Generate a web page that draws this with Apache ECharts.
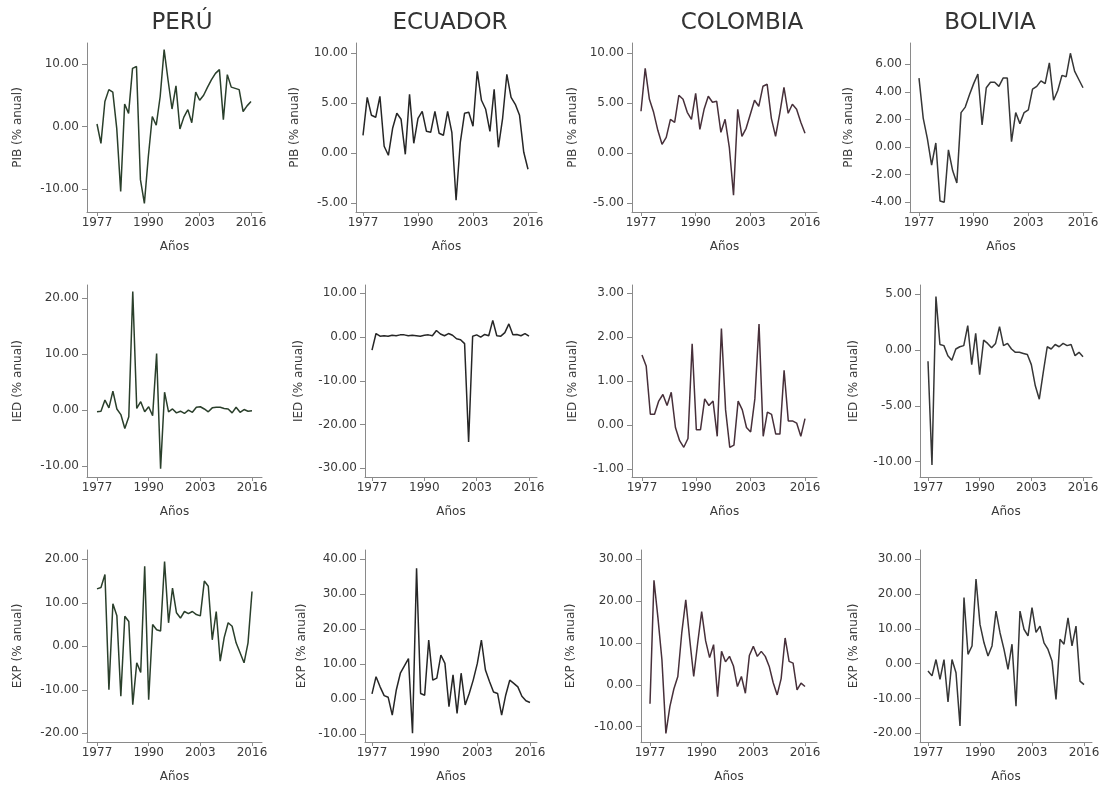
<!DOCTYPE html>
<html><head><meta charset="utf-8">
<script src="https://cdn.jsdelivr.net/npm/echarts@6/dist/echarts.min.js"></script>
<style>html,body{margin:0;padding:0;background:#fff}#c{width:1104px;height:794px}</style>
</head><body><div id="c"></div>
<script>
// ---------- data ----------
const years = [1977,1978,1979,1980,1981,1982,1983,1984,1985,1986,1987,1988,1989,1990,1991,1992,1993,1994,1995,1996,
               1997,1998,1999,2000,2001,2002,2003,2004,2005,2006,2007,2008,2009,2010,2011,2012,2013,2014,2015,2016];
const countries = ['PERÚ','ECUADOR','COLOMBIA','BOLIVIA'];
const rowNames = ['PIB (% anual)','IED (% anual)','EXP (% anual)'];
const xName = 'Años';
const xTicks = [1977,1990,2003,2016];

const pibPeru     = [0.4,-2.7,4.0,5.9,5.5,-0.3,-10.4,3.6,2.1,9.3,9.6,-8.5,-12.3,-4.8,1.6,0.2,4.8,12.3,7.4,2.8,6.5,-0.4,1.5,2.7,0.6,5.5,4.2,5.0,6.3,7.5,8.5,9.1,1.1,8.3,6.3,6.1,5.9,2.4,3.3,4.0];
const pibEcuador  = [1.8,5.6,3.8,3.6,5.7,0.7,-0.2,2.5,4.0,3.4,-0.1,5.9,1.0,3.5,4.2,2.2,2.1,4.2,2.0,1.8,4.2,2.1,-4.7,1.1,4.0,4.1,2.7,8.2,5.3,4.4,2.2,6.4,0.6,3.5,7.9,5.6,4.9,3.8,0.1,-1.6];
const pibColombia = [4.2,8.5,5.4,4.1,2.3,0.9,1.6,3.4,3.1,5.8,5.4,4.1,3.4,6.0,2.4,4.4,5.7,5.1,5.2,2.1,3.4,0.6,-4.2,4.4,1.7,2.5,3.9,5.3,4.7,6.7,6.9,3.5,1.7,4.0,6.6,4.0,4.9,4.4,3.1,2.0];
const pibBolivia  = [5.0,2.1,0.6,-1.3,0.3,-3.9,-4.0,-0.2,-1.7,-2.6,2.5,2.9,3.8,4.6,5.3,1.6,4.3,4.7,4.7,4.4,5.0,5.0,0.4,2.5,1.7,2.5,2.7,4.2,4.4,4.8,4.6,6.1,3.4,4.1,5.2,5.1,6.8,5.5,4.9,4.3];

const iedPeru     = [-0.3,-0.2,1.8,0.4,3.4,0.2,-0.8,-3.3,-1.2,21.2,0.3,1.5,-0.3,0.6,-1.0,10.1,-10.5,3.2,-0.3,0.2,-0.5,-0.2,-0.6,0.0,-0.4,0.5,0.6,0.2,-0.3,0.4,0.5,0.5,0.3,0.2,-0.5,0.5,-0.4,0.1,-0.2,-0.1];
const iedEcuador  = [-3.0,0.8,0.2,0.3,0.2,0.4,0.3,0.5,0.5,0.3,0.4,0.3,0.2,0.4,0.5,0.3,1.5,0.7,0.3,0.8,0.4,-0.4,-0.6,-1.5,-24.0,0.2,0.5,0.0,0.6,0.3,3.8,0.3,0.2,1.0,3.0,0.5,0.6,0.3,0.8,0.2];
const iedColombia = [1.6,1.35,0.25,0.25,0.55,0.7,0.45,0.75,-0.05,-0.35,-0.5,-0.3,1.85,-0.1,-0.1,0.6,0.45,0.55,-0.25,2.2,0.35,-0.5,-0.45,0.55,0.35,-0.05,-0.15,0.6,2.3,-0.25,0.3,0.25,-0.2,-0.2,1.25,0.1,0.1,0.05,-0.25,0.15];
const iedBolivia  = [-1.0,-10.3,4.8,0.5,0.4,-0.5,-0.9,0.1,0.3,0.4,2.2,-1.3,1.5,-2.2,0.9,0.6,0.2,0.6,2.1,0.4,0.6,0.1,-0.2,-0.2,-0.3,-0.4,-1.3,-3.2,-4.4,-2.0,0.3,0.1,0.5,0.3,0.6,0.4,0.5,-0.5,-0.2,-0.6];

const expPeru     = [13.2,13.5,16.5,-10.0,9.8,7.0,-11.5,6.9,5.7,-13.4,-3.8,-6.0,18.4,-12.3,5.0,3.8,3.5,19.5,5.4,13.4,7.7,6.5,8.0,7.5,8.0,7.3,7.0,15.0,13.8,1.5,8.0,-3.4,2.0,5.4,4.6,0.8,-1.5,-3.8,0.8,12.6];
const expEcuador  = [1.5,6.4,3.5,1.0,0.5,-4.6,2.6,7.4,9.5,11.6,-9.8,37.4,1.6,1.1,16.9,5.4,6.0,12.6,10.2,-2.2,6.9,-4.1,7.4,-1.7,1.6,5.5,10.2,16.9,8.3,5.0,2.0,1.6,-4.6,1.1,5.4,4.5,3.5,0.8,-0.5,-1.0];
const expColombia = [-4.5,25.0,16.0,6.0,-11.6,-5.2,-1.0,2.0,12.5,20.3,10.8,2.0,10.0,17.5,10.5,6.5,9.6,-2.8,8.0,5.5,6.8,4.5,-0.4,2.0,-2.0,7.0,9.2,6.8,8.0,6.8,4.4,0.5,-2.4,1.5,11.2,5.6,5.2,-1.2,0.4,-0.4];
const expBolivia  = [-2.1,-3.5,1.2,-4.5,1.2,-11.0,1.2,-2.6,-17.9,19.0,2.7,5.1,24.3,11.3,6.0,2.2,5.1,15.1,8.9,4.1,-1.6,5.6,-12.2,15.1,9.9,8.0,16.1,9.0,10.8,6.0,4.1,0.8,-10.3,7.0,5.6,13.2,5.1,10.8,-5.0,-6.0];

// y tick labels per panel
const yTicksPib = [[-10,0,10],[-5,0,5,10],[-5,0,5,10],[-4,-2,0,2,4,6]];
const yTicksIed = [[-10,0,10,20],[-30,-20,-10,0,10],[-1,0,1,2,3],[-10,-5,0,5]];
const yTicksExp = [[-20,-10,0,10,20],[-10,0,10,20,30,40],[-10,0,10,20,30],[-20,-10,0,10,20,30]];

// ---------- layout (pixels) ----------
const rowTop = [43, 285, 550];
const rowBottom = [212, 477, 742];
const axisX  = [[87,356,632,910],[87,365,632,920],[87,365,641,920]];
const tick1977X = [[97,363,641,919],[97,372,642,928],[97,372,650,928]];
const tick2016X = [[251,528,805,1083],[252,529,805,1083],[252,530,805,1084]];
const rightX = [[262,537,817,1092],[262,537,817,1092],[262,537,817,1092]];
const yTickPx = [
  [[64,189],[53.3,203.3],[53.3,203.3],[64.3,202.3]],
  [[298.3,466],[293.3,468.3],[293.3,469.3],[294.3,461.7]],
  [[559.3,733.3],[559.3,734],[559.3,726.7],[559.3,733.3]]
];
const yNameGap = [[63,55,53,55],[63,60,53,60],[63,57,64,60]];
const titleCenterX = [182,450,742,990];
const lineColors = ['#2a3f2b','#262626','#47303a','#363636'];

// ---------- build ----------
const seriesVals = [[pibPeru,pibEcuador,pibColombia,pibBolivia],[iedPeru,iedEcuador,iedColombia,iedBolivia],[expPeru,expEcuador,expColombia,expBolivia]];
const yTickSets = [yTicksPib, yTicksIed, yTicksExp];
const FONT = 'DejaVu Sans';
const axisColor = '#8a8a8a';
const textColor = '#3a3a3a';

const grid=[], xAxis=[], yAxis=[], series=[], title=[];
for (let c=0;c<4;c++){
  title.push({text:countries[c], left:titleCenterX[c]-5, top:7, textAlign:'center',
    textStyle:{fontFamily:FONT, fontSize:23, fontWeight:'normal', color:'#333'}});
}
for (let r=0;r<3;r++){
  for (let c=0;c<4;c++){
    const k=r*4+c;
    const L=axisX[r][c], R=rightX[r][c], a=tick1977X[r][c], b=tick2016X[r][c];
    const sx=(b-a)/(xTicks[3]-xTicks[0]);
    const xmin=xTicks[0]-(a-L)/sx, xmax=xTicks[3]+(R-b)/sx;
    const top=rowTop[r], bottom=rowBottom[r];
    const ticks=yTickSets[r][c];
    const tMin=ticks[0], tMax=ticks[ticks.length-1];
    const pMax=yTickPx[r][c][0], pMin=yTickPx[r][c][1];
    const sy=(pMin-pMax)/(tMax-tMin);
    const ymax=tMax+(pMax-top)/sy, ymin=tMin-(bottom-pMin)/sy;
    grid.push({left:L, top:top, width:R-L, height:bottom-top});
    xAxis.push({type:'value', gridIndex:k, min:xmin, max:xmax,
      name:xName, nameLocation:'middle', nameGap:29,
      nameTextStyle:{fontFamily:FONT, fontSize:12, color:textColor},
      axisLine:{onZero:false, lineStyle:{color:axisColor, width:1}},
      axisTick:{customValues:xTicks, length:4, lineStyle:{color:axisColor}},
      axisLabel:{customValues:xTicks, margin:5, fontFamily:FONT, fontSize:12, color:textColor, formatter:v=>String(Math.round(v))},
      splitLine:{show:false}});
    yAxis.push({type:'value', gridIndex:k, min:ymin, max:ymax,
      name:rowNames[r], nameLocation:'middle', nameGap:yNameGap[r][c],
      nameTextStyle:{fontFamily:FONT, fontSize:12, color:textColor},
      axisLine:{show:true, onZero:false, lineStyle:{color:axisColor, width:1}},
      axisTick:{show:true, customValues:ticks, length:5, lineStyle:{color:axisColor}},
      axisLabel:{customValues:ticks, margin:8, fontFamily:FONT, fontSize:12, color:textColor, formatter:v=>Number(v).toFixed(2)},
      splitLine:{show:false}});
    const vals=seriesVals[r][c];
    series.push({type:'line', xAxisIndex:k, yAxisIndex:k, showSymbol:false, symbol:'none', silent:true,
      data: years.map((y,i)=>[y, vals[i]]),
      lineStyle:{color:lineColors[c], width:1.5}});
  }
}
const chart=echarts.init(document.getElementById('c'));
chart.setOption({animation:false, backgroundColor:'#fff', title, grid, xAxis, yAxis, series});
</script></body></html>
